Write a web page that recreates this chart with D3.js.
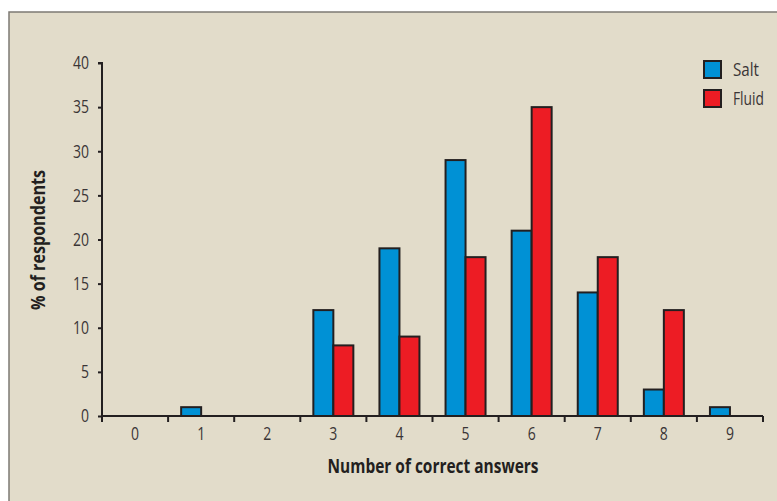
<!DOCTYPE html>
<html><head><meta charset="utf-8">
<script src="https://cdn.jsdelivr.net/npm/d3@7"></script>
<style>body{margin:0;background:#fff;} text{font-family:"Open Sans","Noto Sans",sans-serif;}</style>
</head><body>
<svg id="c" width="777" height="501"></svg>
<script>
const categories = ["0","1","2","3","4","5","6","7","8","9"];
const salt  = [0,1,0,12,19,29,21,14,3,1];
const fluid = [0,0,0,8,9,18,35,18,12,0];
const seriesNames = ["Salt","Fluid"];
const yTicks = [0,5,10,15,20,25,30,35,40];
const colors = ["#0091d5","#ed1c24"];

const svg = d3.select("#c");
svg.append("rect").attr("x",9).attr("y",12).attr("width",800).attr("height",520)
  .attr("fill","#e2dcca").attr("stroke","#7d7a74").attr("stroke-width",1.5);

const x0 = 102, x1 = 763, yTop = 63, yBot = 416;
const x = d3.scaleBand().domain(categories).range([x0,x1]).padding(0);
const y = d3.scaleLinear().domain([0,40]).range([yBot,yTop]);
const ink = "#231f20";
const labelInk = "#3a3536";

// bars
const bw = 20;
categories.forEach((c,i)=>{
  const cx = x(c) + x.bandwidth()/2;
  [salt[i],fluid[i]].forEach((v,j)=>{
    if(v<=0) return;
    svg.append("rect")
      .attr("x", j===0 ? cx-bw : cx)
      .attr("y", y(v))
      .attr("width", bw)
      .attr("height", y(0)-y(v))
      .attr("fill", colors[j])
      .attr("stroke", ink).attr("stroke-width",2);
  });
});

// y axis
const ya = svg.append("g").attr("transform",`translate(${x0},0)`)
  .call(d3.axisLeft(y).tickValues(yTicks).tickSize(4).tickPadding(9));
ya.attr("font-size",null).attr("font-family",null);
ya.select(".domain").attr("stroke",ink).attr("stroke-width",2).attr("d",`M-4,${yTop}H0V${yBot}`);
ya.selectAll(".tick line").attr("stroke",ink).attr("stroke-width",2);
ya.selectAll(".tick text").style("font-size","18px").attr("fill",labelInk)
  .attr("textLength",d=>d>=10?16:8).attr("lengthAdjust","spacingAndGlyphs");

// x axis
const xa = svg.append("g").attr("transform",`translate(0,${yBot})`)
  .call(d3.axisBottom(x).tickSize(0).tickPadding(11));
xa.attr("font-size",null).attr("font-family",null);
xa.select(".domain").attr("stroke",ink).attr("stroke-width",2).attr("d",`M${x0},0H${x1}`);
xa.selectAll(".tick text").style("font-size","18px").attr("fill",labelInk)
  .attr("textLength",8).attr("lengthAdjust","spacingAndGlyphs");
const bounds = categories.map(c=>x(c)).concat([x1]);
svg.append("g").selectAll("line").data(bounds).join("line")
  .attr("x1",d=>d).attr("x2",d=>d).attr("y1",yBot).attr("y2",yBot+6)
  .attr("stroke",ink).attr("stroke-width",2);

// axis titles
svg.append("text").attr("x",433).attr("y",473).attr("text-anchor","middle")
  .style("font-size","19px").attr("font-weight","bold").attr("fill",ink)
  .attr("textLength",211).attr("lengthAdjust","spacingAndGlyphs")
  .text("Number of correct answers");
svg.append("text").attr("transform","translate(45,240) rotate(-90)").attr("text-anchor","middle")
  .style("font-size","19px").attr("font-weight","bold").attr("fill",ink)
  .attr("textLength",140).attr("lengthAdjust","spacingAndGlyphs")
  .text("% of respondents");

// legend
seriesNames.forEach((n,i)=>{
  const ly = 61 + i*29;
  svg.append("rect").attr("x",704).attr("y",ly).attr("width",17).attr("height",17)
    .attr("fill",colors[i]).attr("stroke",ink).attr("stroke-width",2);
  svg.append("text").attr("x",733).attr("y",ly+15).style("font-size","19px")
    .attr("fill",labelInk).attr("textLength",i===0?26:31).attr("lengthAdjust","spacingAndGlyphs").text(n);
});
</script>
</body></html>
